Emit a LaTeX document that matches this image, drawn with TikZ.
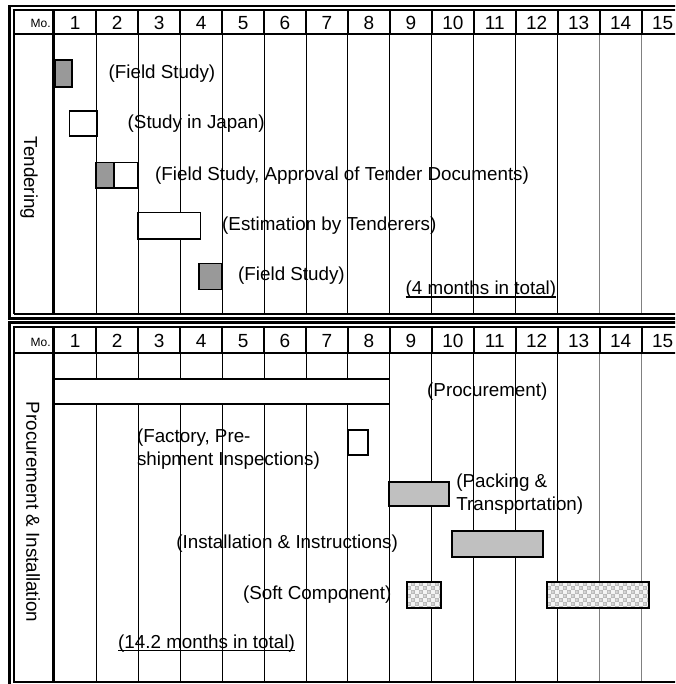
\documentclass[tikz,border=0pt]{standalone}
\usepackage{fontspec}
\setmainfont{Liberation Sans}
\definecolor{darkbar}{HTML}{999999}
\definecolor{lightbar}{HTML}{C0C0C0}
\definecolor{softgray}{HTML}{B8B8B8}
\definecolor{softlight}{HTML}{F4F4F4}
\definecolor{faintrule}{HTML}{808080}

% column geometry: left edge of month 1 and width of one month
\newcommand{\colzero}{54.3}
\newcommand{\colw}{41.95}

% patterned bar used for the soft component
\newcommand{\softbar}[4]{%
  \begin{scope}
    \clip (#1,#2) rectangle (#3,#4);
    \fill[softgray] (#1,#2) rectangle (#3,#4);
    \foreach \sx in {0,8,...,112}{
      \foreach \sy in {0,8,...,24}{
        \fill[softlight] (#1+\sx,#2+\sy) rectangle ++(4,4);
        \fill[softlight] (#1+\sx+4,#2+\sy+4) rectangle ++(4,4);
        \fill[white!45!softgray] (#1+\sx+6,#2+\sy+2) circle (1.3);
        \fill[white!45!softgray] (#1+\sx+2,#2+\sy+6) circle (1.3);
      }
    }
  \end{scope}
  \draw[barline] (#1,#2) rectangle (#3,#4);}

\begin{document}
\begin{tikzpicture}[x=1pt,y=-1pt,
  outerrule/.style={line width=2.4pt},
  innerrule/.style={line width=1.2pt},
  headrule/.style={line width=2pt},
  monthrule/.style={line width=2.5pt},
  gridrule/.style={line width=1pt},
  barline/.style={line width=1.6pt},
  whitebar/.style={barline, fill=white},
  greybar/.style={barline, fill=darkbar},
  paleblock/.style={barline, fill=lightbar},
  lbl/.style={font=\fontsize{18.8}{23}\selectfont, inner sep=0pt, anchor=west, align=left},
  monthnum/.style={font=\fontsize{19}{22}\selectfont, inner sep=0pt, anchor=base},
  mohead/.style={font=\fontsize{12}{14}\selectfont, inner sep=0pt, anchor=base east},
  sidelabel/.style={font=\fontsize{18.8}{23}\selectfont, inner sep=0pt, rotate=-90},
  underrule/.style={line width=1.4pt}]
\useasboundingbox (0,0) rectangle (675,684);
\clip (0,0) rectangle (675,684);

% ---------------- Tendering panel ----------------
% month grid lines in the body
\foreach \k in {1,...,14}{
  \ifnum\k>12
    \draw[gridrule, faintrule] (\colzero+\colw*\k,34.5) -- (\colzero+\colw*\k,314);
  \else
    \draw[gridrule] (\colzero+\colw*\k,34.5) -- (\colzero+\colw*\k,314);
  \fi
  \draw[headrule] (\colzero+\colw*\k,10) -- (\colzero+\colw*\k,34.5);
}
% header row
\draw[headrule] (14,34.5) -- (700,34.5);
\node[mohead] (moA) at (50.8,28) {Mo.};
\foreach \k in {1,...,15}{
  \node[monthnum] (hA\k) at (\colzero+\colw*\k-\colw/2,29.6) {\k};
}
% double frame
\draw[outerrule] (700,6.2) -- (9.5,6.2) -- (9.5,318.5) -- (700,318.5);
\draw[innerrule] (700,10) -- (14,10) -- (14,314);
\draw[headrule] (14,314) -- (700,314);
\draw[monthrule] (53.5,10) -- (53.5,314);

% bars
\draw[greybar] (54.8,60) rectangle (72,87);
\draw[whitebar] (69.3,111) rectangle (96.7,136);
\draw[greybar] (95.7,162.7) rectangle (114,188.3);
\draw[whitebar] (114,162.7) rectangle (137.7,188.3);
\draw[whitebar] (137.7,212.7) rectangle (200.3,239);
\draw[greybar] (198.7,263.3) rectangle (221.7,289.3);

% labels
\node[sidelabel] (tend) at (29,178) {Tendering};
\node[lbl] (fs1) at (108.5,73.5) {(Field Study)};
\node[lbl] (sij) at (127.5,123.5) {(Study in Japan)};
\node[lbl] (fsa) at (155,175.5) {(Field Study, Approval of Tender Documents)};
\node[lbl] (est) at (222,226) {(Estimation by Tenderers)};
\node[lbl] (fs2) at (238,276) {(Field Study)};
\node[lbl, anchor=base west] (totA) at (405.5,294.8) {(4 months in total)};
\draw[underrule] ([yshift=-2.3pt]totA.base west) -- ([yshift=-2.3pt]totA.base east);

% ---------------- Procurement & Installation panel ----------------
\foreach \k in {1,...,14}{
  \ifnum\k>12
    \draw[gridrule, faintrule] (\colzero+\colw*\k,353) -- (\colzero+\colw*\k,682);
  \else
    \draw[gridrule] (\colzero+\colw*\k,353) -- (\colzero+\colw*\k,682);
  \fi
  \draw[headrule] (\colzero+\colw*\k,327) -- (\colzero+\colw*\k,353);
}
\draw[headrule] (14,353) -- (700,353);
\node[mohead] (moB) at (50.8,346) {Mo.};
\foreach \k in {1,...,15}{
  \node[monthnum] (hB\k) at (\colzero+\colw*\k-\colw/2,347.4) {\k};
}
\draw[outerrule] (700,322.5) -- (9.5,322.5) -- (9.5,700);
\draw[innerrule] (700,327) -- (14,327) -- (14,682) -- (700,682);
\draw[monthrule] (53.5,327) -- (53.5,682);

% bars
\draw[whitebar] (54.5,379) rectangle (389.5,404);
\draw[whitebar] (348.3,430) rectangle (367.7,455);
\draw[paleblock] (389,481.7) rectangle (449,505.7);
\draw[paleblock] (451.7,531) rectangle (542.7,556.7);
\softbar{406.7}{582}{440.7}{607.7}
\softbar{546.7}{582}{649}{607.7}

% labels
\node[sidelabel] (proc) at (33,512) {Procurement \& Installation};
\node[lbl] (pro) at (427,391.5) {(Procurement)};
\node[lbl] (fac) at (136.8,449.5) {(Factory, Pre-\\shipment Inspections)};
\node[lbl] (pac) at (456.2,494.5) {(Packing \&\\Transportation)};
\node[lbl] (ins) at (176.2,543.5) {(Installation \& Instructions)};
\node[lbl] (soft) at (242.8,595) {(Soft Component)};
\node[lbl, anchor=base west] (totB) at (118,648) {(14.2 months in total)};
\draw[underrule] ([yshift=-2.3pt]totB.base west) -- ([yshift=-2.3pt]totB.base east);
\end{tikzpicture}
\end{document}
